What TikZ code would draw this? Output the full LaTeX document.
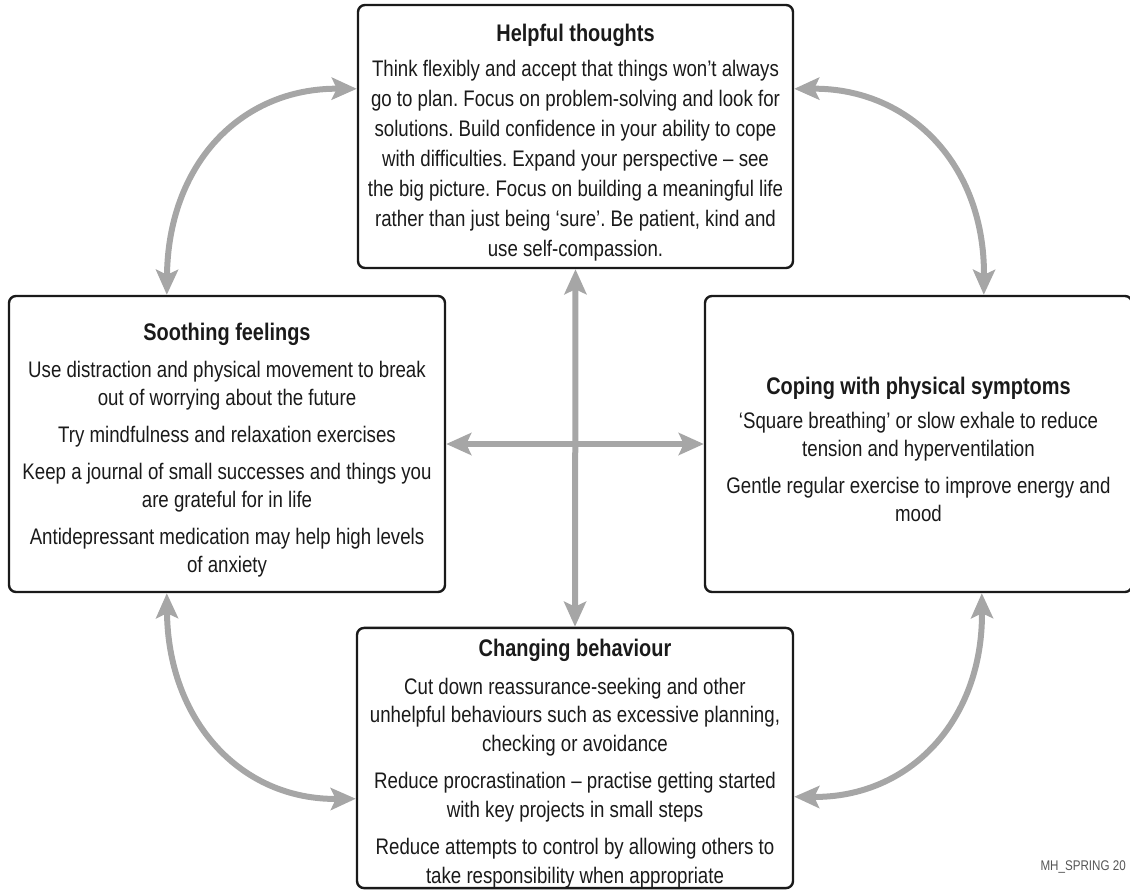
\documentclass[tikz,border=0pt]{standalone}
\usepackage{fontspec}
\setmainfont{Liberation Sans}[FakeStretch=0.83]
\frenchspacing
\definecolor{mhInk}{HTML}{1A1A1A}
\definecolor{mhArrow}{HTML}{A6A6A6}
\definecolor{mhNote}{HTML}{555555}
\usetikzlibrary{arrows.meta}
\tikzset{
  mhbox/.style={draw=mhInk, line width=2.4pt, rounded corners=7pt, inner sep=0pt, align=center, text=mhInk,
    font=\fontsize{22.5}{28}\selectfont},
  mhlink/.style={draw=mhArrow, line width=6pt, {Stealth[length=25pt,width=22pt,inset=5pt]}-{Stealth[length=25pt,width=22pt,inset=5pt]}},
}
\newcommand{\mhhead}[1]{\rule{0pt}{29pt}{\fontsize{24}{28}\selectfont\bfseries #1}}

\begin{document}
\begin{tikzpicture}[x=1pt,y=-1pt]
  \useasboundingbox (0,0) rectangle (1130,892);
  % Helpful thoughts box
  \node[mhbox, minimum width=435pt, minimum height=263pt, font=\fontsize{22.5}{30}\selectfont] (thoughts) at (575.5,136.5)
    {\mhhead{Helpful thoughts}\\[5pt]
     Think flexibly and accept that things won’t always\\
     go to plan. Focus on problem-solving and look for\\
     solutions. Build confidence in your ability to cope\\
     with difficulties. Expand your perspective – see\\
     the big picture. Focus on building a meaningful life\\
     rather than just being ‘sure’. Be patient, kind and\\
     use self-compassion.};
  % Soothing feelings box
  \node[mhbox, minimum width=436pt, minimum height=296pt] (soothing) at (227,444)
    {\mhhead{Soothing feelings}\\[9pt]
     Use distraction and physical movement to break\\
     out of worrying about the future\\[9pt]
     Try mindfulness and relaxation exercises\\[9pt]
     Keep a journal of small successes and things you\\
     are grateful for in life\\[9pt]
     Antidepressant medication may help high levels\\
     of anxiety};
  % Coping with physical symptoms box
  \node[mhbox, minimum width=427pt, minimum height=296pt] (coping) at (918.5,444)
    {\mhhead{Coping with physical symptoms}\\[6pt]
     ‘Square breathing’ or slow exhale to reduce\\
     tension and hyperventilation\\[9pt]
     Gentle regular exercise to improve energy and\\
     mood};
  % Changing behaviour box
  \node[mhbox, minimum width=436pt, minimum height=260pt, font=\fontsize{22.5}{28.5}\selectfont] (behaviour) at (575,758)
    {\mhhead{Changing behaviour}\\[9pt]
     Cut down reassurance-seeking and other\\
     unhelpful behaviours such as excessive planning,\\
     checking or avoidance\\[9pt]
     Reduce procrastination – practise getting started\\
     with key projects in small steps\\[9pt]
     Reduce attempts to control by allowing others to\\
     take responsibility when appropriate};
  \node[anchor=base west, font=\fontsize{14}{16}\selectfont, text=mhNote] (mark) at (1037,870) {MH\_SPRING 20};
  % links
  \draw[mhlink] (thoughts.south) -- (behaviour.north);
  \draw[mhlink] (soothing.east) -- (coping.west);
  \draw[mhlink] ([yshift=-85pt]thoughts.north west) .. controls (240,88) and (168,165) .. ([xshift=159pt]soothing.north west);
  \draw[mhlink] ([yshift=-85pt]thoughts.north east) .. controls (910,88) and (985,165) .. ([xshift=280pt]coping.north west);
  \draw[mhlink] ([xshift=159pt]soothing.south west) .. controls (168,720) and (240,800) .. ([yshift=-172pt]behaviour.north west);
  \draw[mhlink] ([xshift=278pt]coping.south west) .. controls (983,720) and (910,798) .. ([yshift=-170pt]behaviour.north east);
\end{tikzpicture}
\end{document}
